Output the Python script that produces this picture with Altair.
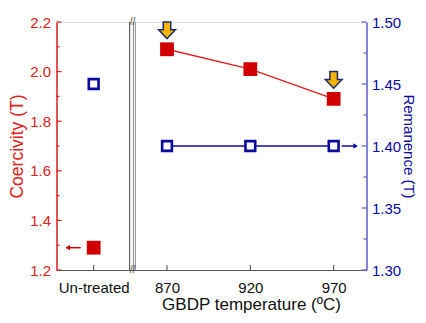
import altair as alt
import pandas as pd

# ---- data ----
conditions = ["Un-treated", "870", "920", "970"]
x_pos = [826, 870, 920, 970]          # position on the (broken) temperature axis
coercivity = [1.29, 2.09, 2.01, 1.89]  # T
remanence = [1.45, 1.40, 1.40, 1.40]   # T
treated = [False, True, True, True]

hc_ticks = [1.2, 1.3, 1.4, 1.5, 1.6, 1.7, 1.8, 1.9, 2.0, 2.1, 2.2]
hc_major = [True, False, True, False, True, False, True, False, True, False, True]
br_ticks = [1.30, 1.325, 1.35, 1.375, 1.40, 1.425, 1.45, 1.475, 1.50]
br_major = [True, False, True, False, True, False, True, False, True]
break_left = [847.6]
break_right = [849.8, 851.0]
arrow_down_at = ["870", "970"]

df = pd.DataFrame({"cond": conditions, "x": x_pos, "hc": coercivity,
                   "br": remanence, "treated": treated})
df_t = df[df["treated"]]
df_u = df[~df["treated"]]
df_arrow = df[df["cond"].isin(arrow_down_at)]
df_last = df[df["cond"] == "970"]

RED = "#d00000"
RED_AX = "#e02020"
BLUE = "#0a0a9c"
BLUE_AX = "#6060c8"

xscale = alt.Scale(domain=[803.7, 989.7], nice=False, zero=False)
xaxis = alt.Axis(values=x_pos, ticks=False, grid=False, labelPadding=10,
                 labelExpr="datum.value < 850 ? 'Un-treated' : datum.label",
                 labelFontSize=15, labelColor="#111", domainColor="#555",
                 title="GBDP temperature (ºC)", titleFontSize=17,
                 titleFontWeight="normal", titleColor="#111", titlePadding=1,
                 titleX=194.5, titleAlign="center", titleAnchor="start")

def X(field="x"):
    return alt.X(f"{field}:Q", scale=xscale, axis=xaxis)

yL_scale = alt.Scale(domain=[1.2, 2.2], nice=False, zero=False)
yL_axis = alt.Axis(values=[1.2, 1.4, 1.6, 1.8, 2.0, 2.2], format=".1f", ticks=False,
                   grid=False, labelColor=RED_AX, labelFontSize=15, labelPadding=6,
                   domainColor=RED_AX, domainWidth=1.5,
                   title="Coercivity (T)", titleColor=RED_AX, titleFontSize=17.5,
                   titleFontWeight="normal", titlePadding=3)
yR_scale = alt.Scale(domain=[1.30, 1.50], nice=False, zero=False)
yR_axis = alt.Axis(values=[1.30, 1.35, 1.40, 1.45, 1.50], format=".2f", ticks=False,
                   grid=False, orient="right", labelColor=BLUE, labelFontSize=15,
                   labelPadding=5, domainColor=BLUE_AX, domainWidth=1.5,
                   title="Remanence (T)", titleColor=BLUE, titleFontSize=15,
                   titleFontWeight="normal", titlePadding=0)

def YL(field="hc"):
    return alt.Y(f"{field}:Q", scale=yL_scale, axis=yL_axis)

def YR(field="br"):
    return alt.Y(f"{field}:Q", scale=yR_scale, axis=yR_axis)

# ---- coercivity group ----
hc_line = alt.Chart(df_t).mark_line(color=RED_AX, strokeWidth=1.5).encode(x=X(), y=YL())
hc_pts = alt.Chart(df).mark_point(shape="square", filled=True, size=190, color=RED,
                                  opacity=1).encode(x=X(), y=YL())
hc_arrow_line = alt.Chart(df_u).mark_rule(color=RED, strokeWidth=1.5, xOffset=-25,
                                          x2Offset=-13).encode(x=X(), x2="x:Q", y=YL())
hc_arrow_head = alt.Chart(df_u).mark_point(shape="triangle-left", filled=True, size=28,
                                           color=RED, opacity=1, xOffset=-26).encode(x=X(), y=YL())
down_path = "M-0.45,-1 L0.45,-1 L0.45,-0.05 L1,-0.05 L0,1 L-1,-0.05 L-0.45,-0.05 Z"
hc_down = alt.Chart(df_arrow).mark_point(shape=down_path, filled=True, size=280,
                                         fill="#f5b400", stroke="#1c2c6c", strokeWidth=1.5,
                                         opacity=1, yOffset=-19).encode(x=X(), y=YL())
df_hct = pd.DataFrame({"v": hc_ticks, "major": hc_major})
hc_tick_major = alt.Chart(df_hct[df_hct["major"]]).mark_rule(color=RED_AX, strokeWidth=1.2).encode(
    y=YL("v"), x=alt.value(0), x2=alt.value(5))
hc_tick_minor = alt.Chart(df_hct[~df_hct["major"]]).mark_rule(color=RED_AX, strokeWidth=1.2).encode(
    y=YL("v"), x=alt.value(0), x2=alt.value(3))

# x ticks (inward)
df_xt = pd.DataFrame({"x": x_pos})
x_ticks = alt.Chart(df_xt).mark_rule(color="#444", strokeWidth=1).encode(
    x=X(), y=alt.value(248), y2=alt.value(243))

# axis break
bl = alt.Chart(pd.DataFrame({"b": break_left})).mark_rule(color="#444", strokeWidth=1).encode(
    x=X("b"), y=alt.value(0), y2=alt.value(248))
br_ = alt.Chart(pd.DataFrame({"b": break_right})).mark_rule(color="#8a8a8a", strokeWidth=1).encode(
    x=X("b"), y=alt.value(0), y2=alt.value(248))
slash = alt.Chart(pd.DataFrame({"b": [849.3, 849.3], "yy": [0, 248]})).mark_text(
    fontSize=10, color="#444", text="//", baseline="middle", align="center").encode(
    x=X("b"), y=alt.Y("yy:Q", scale=alt.Scale(domain=[0, 248], range=[0, 248]), axis=None))

left = alt.layer(bl, br_, x_ticks, hc_tick_major, hc_tick_minor, hc_line, hc_pts,
                 hc_arrow_line, hc_arrow_head, hc_down)

# ---- remanence group ----
br_line = alt.Chart(df_t).mark_line(color=BLUE, strokeWidth=1.5).encode(x=X(), y=YR())
br_pts = alt.Chart(df).mark_point(shape="square", filled=False, size=95, color=BLUE,
                                  strokeWidth=2.6, fill="white", opacity=1).encode(x=X(), y=YR())
br_arrow_line = alt.Chart(df_last).mark_rule(color=BLUE, strokeWidth=1.5, xOffset=8,
                                             x2Offset=20).encode(x=X(), x2="x:Q", y=YR())
br_arrow_head = alt.Chart(df_last).mark_point(shape="triangle-right", filled=True, size=28,
                                              color=BLUE, opacity=1, xOffset=22).encode(x=X(), y=YR())
df_brt = pd.DataFrame({"v": br_ticks, "major": br_major})
br_tick_major = alt.Chart(df_brt[df_brt["major"]]).mark_rule(color=BLUE_AX, strokeWidth=1.2).encode(
    y=YR("v"), x=alt.value(310), x2=alt.value(305))
br_tick_minor = alt.Chart(df_brt[~df_brt["major"]]).mark_rule(color=BLUE_AX, strokeWidth=1.2).encode(
    y=YR("v"), x=alt.value(310), x2=alt.value(307))

right = alt.layer(br_tick_major, br_tick_minor, br_line, br_pts, br_arrow_line, br_arrow_head)

chart = alt.layer(left, right, slash).resolve_scale(y="independent").properties(
    width=310, height=248,
    autosize=alt.AutoSizeParams(type="none"),
    padding={"left": 48.5, "top": 14, "right": 51.5, "bottom": 45},
).configure_view(stroke="#9a9a9a", strokeWidth=1.2).configure(font="Liberation Sans")

chart.save("out.html", embed_options={"renderer": "svg", "actions": False})
